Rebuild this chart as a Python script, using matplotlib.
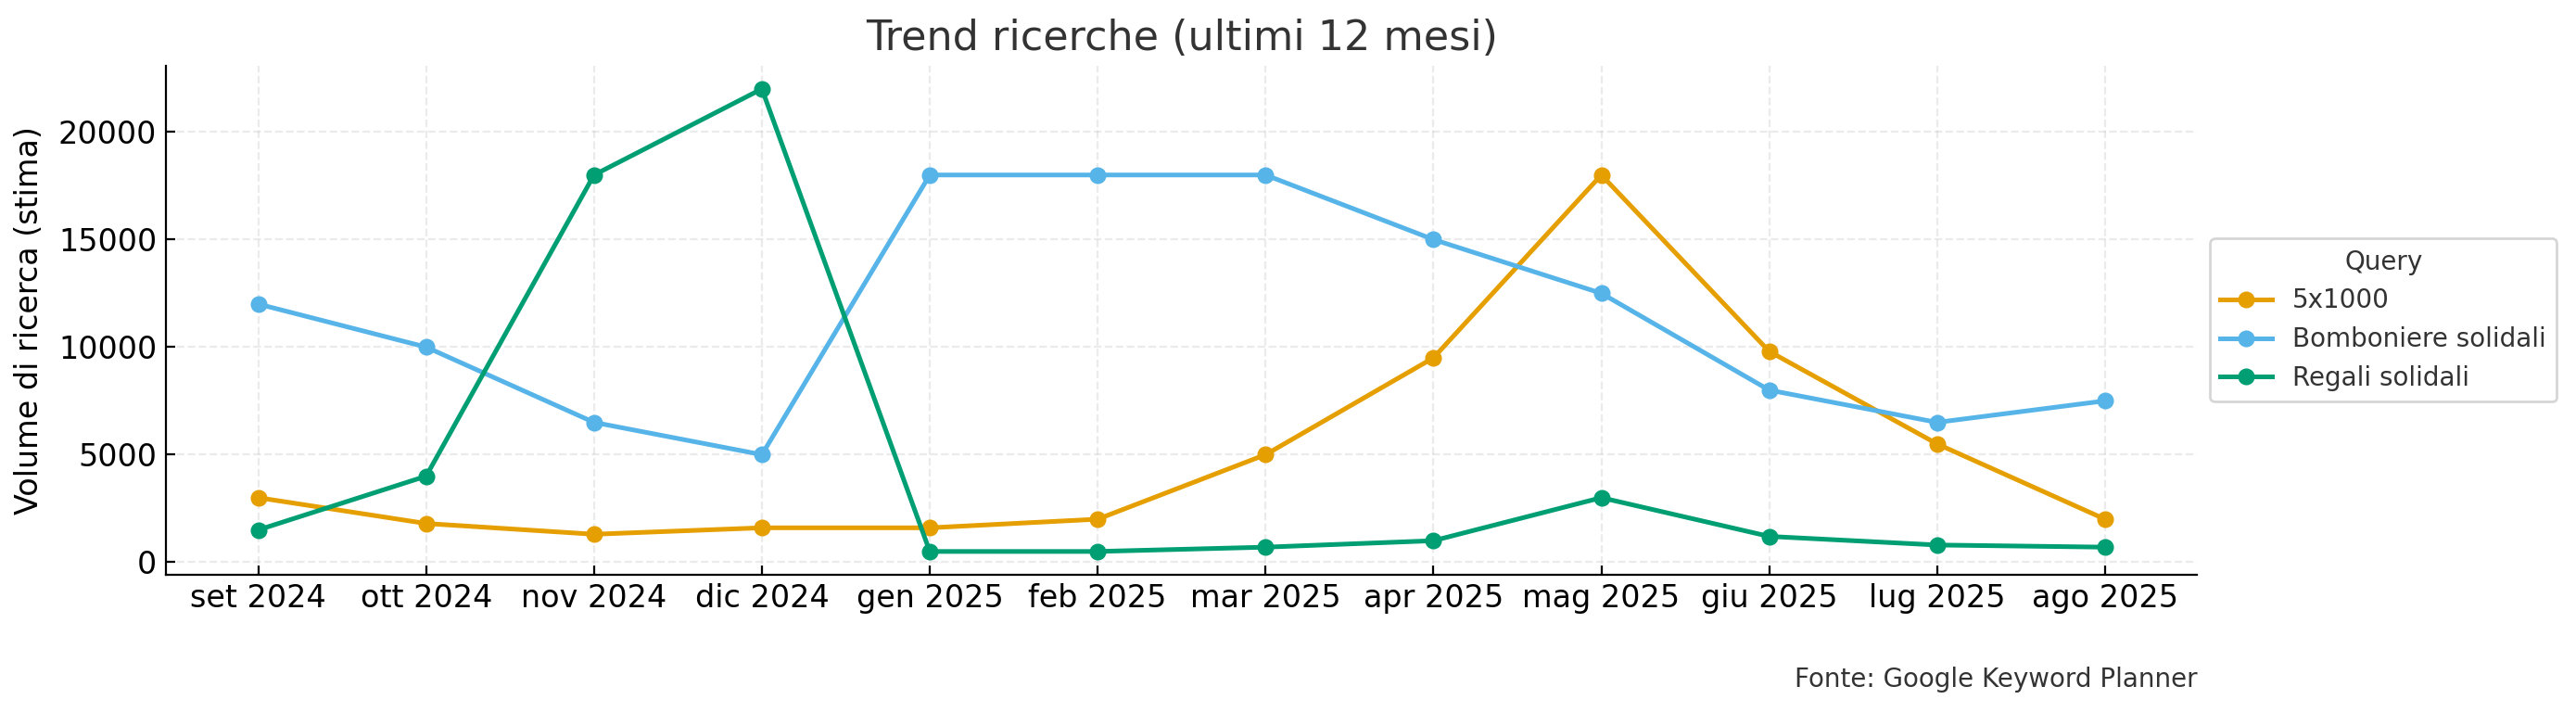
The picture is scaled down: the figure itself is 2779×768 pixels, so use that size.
import matplotlib
matplotlib.use("Agg")
import matplotlib.pyplot as plt

mesi = ["set 2024", "ott 2024", "nov 2024", "dic 2024", "gen 2025", "feb 2025",
        "mar 2025", "apr 2025", "mag 2025", "giu 2025", "lug 2025", "ago 2025"]

query_5x1000 = [3000, 1800, 1300, 1600, 1600, 2000, 5000, 9500, 18000, 9800, 5500, 2000]
query_bomboniere = [12000, 10000, 6500, 5000, 18000, 18000, 18000, 15000, 12500, 8000, 6500, 7500]
query_regali = [1500, 4000, 18000, 22000, 500, 500, 700, 1000, 3000, 1200, 800, 700]

serie = [
    ("5x1000", query_5x1000, "#E69F00"),
    ("Bomboniere solidali", query_bomboniere, "#56B4E9"),
    ("Regali solidali", query_regali, "#009E73"),
]

fig, ax = plt.subplots(figsize=(13.895, 3.84), dpi=200)
fig.subplots_adjust(left=0.0644, right=0.853, top=0.9076, bottom=0.193)

x = list(range(len(mesi)))
for nome, valori, colore in serie:
    ax.plot(x, valori, marker="o", markersize=5.5, linewidth=1.8, color=colore, label=nome)

ax.set_xticks(x)
ax.set_xticklabels(mesi, fontsize=12)
ax.tick_params(axis="both", direction="in", labelsize=12)
ax.set_ylabel("Volume di ricerca (stima)", fontsize=12, labelpad=5.5)
ax.set_title("Trend ricerche (ultimi 12 mesi)", fontsize=16, color="#333333", pad=6)

ax.grid(True, linestyle="--", linewidth=0.8, alpha=0.25)
ax.spines["top"].set_visible(False)
ax.spines["right"].set_visible(False)

leg = ax.legend(title="Query", loc="center left", bbox_to_anchor=(1.0, 0.5),
                fontsize=10, title_fontsize=10)
for t in leg.get_texts():
    t.set_color("#333333")
leg.get_title().set_color("#333333")

fig.text(0.853, 0.045, "Fonte: Google Keyword Planner", ha="right", va="center",
         fontsize=10, color="#333333")

fig.savefig("out.png", dpi=200)
